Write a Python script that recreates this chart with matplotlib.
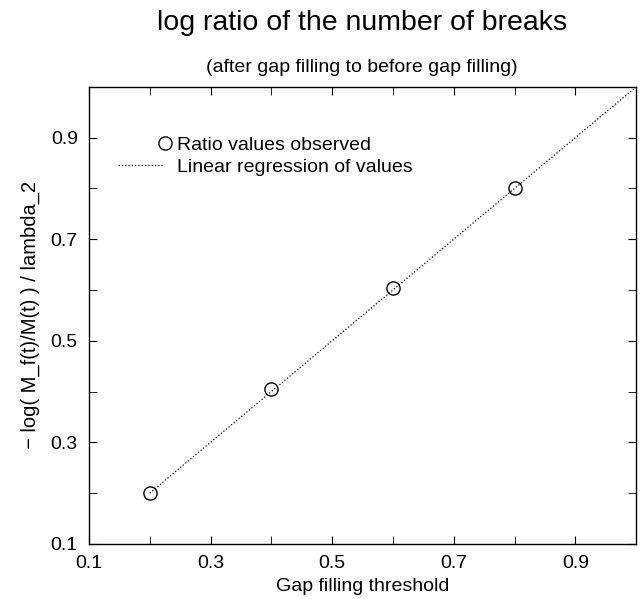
import numpy as np
import matplotlib
matplotlib.use("Agg")
import matplotlib.pyplot as plt
from matplotlib.ticker import MultipleLocator

plt.rcParams['font.family'] = ['Liberation Sans', 'DejaVu Sans']

# observed ratios
threshold = [0.2, 0.4, 0.6, 0.8]
ratio = [0.2, 0.405, 0.603, 0.801]

# regression line end points
reg_x = [0.2, 1.0]
reg_y = [0.2, 1.0]

ticks = [0.1, 0.3, 0.5, 0.7, 0.9]
tick_labels = ["0.1", "0.3", "0.5", "0.7", "0.9"]

fig = plt.figure(figsize=(6.4, 5.99), dpi=100)
ax = fig.add_axes([0.139, 0.092, 0.855, 0.763])

pts, = ax.plot(threshold, ratio, linestyle='none', marker='o', markersize=9.5,
               markerfacecolor='none', markeredgecolor='black', markeredgewidth=1.0)
reg, = ax.plot(reg_x, reg_y, linestyle=':', color='black', linewidth=0.9)

ax.set_xlim(0.1, 1.0)
ax.set_ylim(0.1, 1.0)
ax.set_xticks(ticks)
ax.set_xticklabels(tick_labels)
ax.set_yticks(ticks)
ax.set_yticklabels(tick_labels)
ax.xaxis.set_minor_locator(MultipleLocator(0.1))
ax.yaxis.set_minor_locator(MultipleLocator(0.1))
ax.tick_params(which='both', direction='in', top=True, right=True, labelsize=14)
ax.tick_params(axis='x', pad=8)
ax.tick_params(axis='y', pad=8)
ax.tick_params(which='both', length=6)
for s in ax.spines.values():
    s.set_linewidth(1.0)

ax.set_xlabel('Gap filling threshold', fontsize=14, labelpad=4)
ax.set_ylabel('\u2212 log( M_f(t)/M(t) ) / lambda_2', fontsize=14.5, labelpad=8)

# two separate key entries, like the original
leg1 = ax.legend([pts], ['Ratio values observed'], loc='center left',
                 bbox_to_anchor=(0.1247, 0.873), frameon=False, fontsize=14,
                 handlelength=0.8, handletextpad=0.22, borderpad=0, borderaxespad=0)
ax.add_artist(leg1)
ax.legend([reg], ['Linear regression of values'], loc='center left',
          bbox_to_anchor=(0.053, 0.825), frameon=False, fontsize=14,
          handlelength=2.26, handletextpad=0.77, borderpad=0, borderaxespad=0)

# titles centred over the plot area
fig.text(0.566, 0.962, 'log ratio of the number of breaks', ha='center', va='center', fontsize=20.5)
fig.text(0.566, 0.887, '(after gap filling to before gap filling)', ha='center', va='center', fontsize=14)

fig.savefig('out.png', dpi=100)
